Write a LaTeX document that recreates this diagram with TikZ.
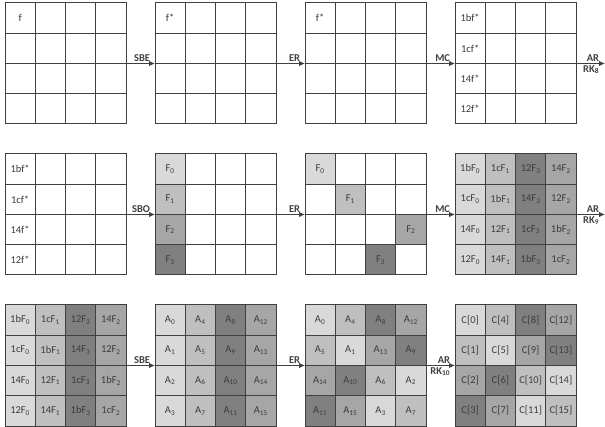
\documentclass[tikz,border=0pt]{standalone}
\usepackage{fontspec}
\setmainfont{Carlito}
\usetikzlibrary{arrows.meta,calc}
\definecolor{stLine}{RGB}{64,64,64}
\definecolor{stText}{RGB}{60,60,60}
\definecolor{shA}{RGB}{217,217,217}
\definecolor{shB}{RGB}{191,191,191}
\definecolor{shC}{RGB}{166,166,166}
\definecolor{shD}{RGB}{128,128,128}
\newcommand\sub[1]{\textsubscript{#1}}
% one 4x4 state: name, top-left x, top-left y, 16 entries text/fill (row by row)
\newcommand\stategrid[4]{%
  \node[gridbox] (#1) at (#2+60.5,#3+60.5) {};
  \foreach \txt/\shade [count=\i from 0] in {#4} {
    \pgfmathtruncatemacro\row{div(\i,4)}
    \pgfmathtruncatemacro\col{mod(\i,4)}
    \node[cell, fill=\shade] (#1-\row\col) at (#2+\col*30.25+15.125, #3+\row*30.25+15.125) {\txt};
  }
}

\begin{document}
\begin{tikzpicture}[
    x=1pt, y=-1pt,
    cell/.style={draw=stLine, line width=1pt, minimum width=30.25pt, minimum height=30.25pt, inner sep=0pt, text=stText, font=\fontsize{10.5}{12}\selectfont},
    gridbox/.style={minimum width=121pt, minimum height=121pt, inner sep=0pt, outer sep=0pt},
    lbl/.style={font=\bfseries\fontsize{10.5}{12}\selectfont, inner sep=1.5pt},
    arrow/.style={-{Latex[length=6pt, width=5.5pt]}, line width=0.9pt, stLine}
  ]
    \useasboundingbox (0,0) rectangle (605,427);

    % row 1
    \stategrid{g11}{5}{3}{f/white, {}/white, {}/white, {}/white,
      {}/white, {}/white, {}/white, {}/white,
      {}/white, {}/white, {}/white, {}/white,
      {}/white, {}/white, {}/white, {}/white}
    \stategrid{g12}{155}{3}{f*/white, {}/white, {}/white, {}/white,
      {}/white, {}/white, {}/white, {}/white,
      {}/white, {}/white, {}/white, {}/white,
      {}/white, {}/white, {}/white, {}/white}
    \stategrid{g13}{305}{3}{f*/white, {}/white, {}/white, {}/white,
      {}/white, {}/white, {}/white, {}/white,
      {}/white, {}/white, {}/white, {}/white,
      {}/white, {}/white, {}/white, {}/white}
    \stategrid{g14}{455}{3}{1bf*/white, {}/white, {}/white, {}/white,
      1cf*/white, {}/white, {}/white, {}/white,
      14f*/white, {}/white, {}/white, {}/white,
      12f*/white, {}/white, {}/white, {}/white}

    % row 2
    \stategrid{g21}{5}{154}{1bf*/white, {}/white, {}/white, {}/white,
      1cf*/white, {}/white, {}/white, {}/white,
      14f*/white, {}/white, {}/white, {}/white,
      12f*/white, {}/white, {}/white, {}/white}
    \stategrid{g22}{155}{154}{F\sub0/shA, {}/white, {}/white, {}/white,
      F\sub1/shB, {}/white, {}/white, {}/white,
      F\sub2/shC, {}/white, {}/white, {}/white,
      F\sub3/shD, {}/white, {}/white, {}/white}
    \stategrid{g23}{305}{154}{F\sub0/shA, {}/white, {}/white, {}/white,
      {}/white, F\sub1/shB, {}/white, {}/white,
      {}/white, {}/white, {}/white, F\sub2/shC,
      {}/white, {}/white, F\sub3/shD, {}/white}
    \stategrid{g24}{455}{154}{1bF\sub0/shA, 1cF\sub1/shB, 12F\sub3/shD, 14F\sub2/shC,
      1cF\sub0/shA, 1bF\sub1/shB, 14F\sub3/shD, 12F\sub2/shC,
      14F\sub0/shA, 12F\sub1/shB, 1cF\sub3/shD, 1bF\sub2/shC,
      12F\sub0/shA, 14F\sub1/shB, 1bF\sub3/shD, 1cF\sub2/shC}

    % row 3
    \stategrid{g31}{5}{305}{1bF\sub0/shA, 1cF\sub1/shB, 12F\sub3/shD, 14F\sub2/shC,
      1cF\sub0/shA, 1bF\sub1/shB, 14F\sub3/shD, 12F\sub2/shC,
      14F\sub0/shA, 12F\sub1/shB, 1cF\sub3/shD, 1bF\sub2/shC,
      12F\sub0/shA, 14F\sub1/shB, 1bF\sub3/shD, 1cF\sub2/shC}
    \stategrid{g32}{155}{305}{A\sub0/shA, A\sub4/shB, A\sub8/shD, A\sub{12}/shC,
      A\sub1/shA, A\sub5/shB, A\sub9/shD, A\sub{13}/shC,
      A\sub2/shA, A\sub6/shB, A\sub{10}/shD, A\sub{14}/shC,
      A\sub3/shA, A\sub7/shB, A\sub{11}/shD, A\sub{15}/shC}
    \stategrid{g33}{305}{305}{A\sub0/shA, A\sub4/shB, A\sub8/shD, A\sub{12}/shC,
      A\sub5/shB, A\sub1/shA, A\sub{13}/shC, A\sub9/shD,
      A\sub{14}/shC, A\sub{10}/shD, A\sub6/shB, A\sub2/shA,
      A\sub{11}/shD, A\sub{15}/shC, A\sub3/shA, A\sub7/shB}
    \stategrid{g34}{455}{305}{C[0]/shA, C[4]/shB, C[8]/shD, C[12]/shC,
      C[1]/shB, C[5]/shA, C[9]/shC, C[13]/shD,
      C[2]/shC, C[6]/shD, C[10]/shB, C[14]/shA,
      C[3]/shD, C[7]/shC, C[11]/shA, C[15]/shB}

    \coordinate (e1) at ($(g14.east)+(29,0)$);
    \coordinate (e2) at ($(g24.east)+(29,0)$);

    \draw[arrow] (g11) -- (g12) node[lbl, pos=1, above left, xshift=-3pt]{SBE};
    \draw[arrow] (g12) -- (g13) node[lbl, pos=1, above left, xshift=-3pt]{ER};
    \draw[arrow] (g13) -- (g14) node[lbl, pos=1, above left, xshift=-3pt]{MC};
    \draw[arrow] (g14) -- (e1) node[lbl, pos=1, above left, xshift=-4pt]{AR}
      node[lbl, pos=1, below left, xshift=-4pt]{RK\sub8};

    \draw[arrow] (g21) -- (g22) node[lbl, pos=1, above left, xshift=-3pt]{SBO};
    \draw[arrow] (g22) -- (g23) node[lbl, pos=1, above left, xshift=-3pt]{ER};
    \draw[arrow] (g23) -- (g24) node[lbl, pos=1, above left, xshift=-3pt]{MC};
    \draw[arrow] (g24) -- (e2) node[lbl, pos=1, above left, xshift=-4pt]{AR}
      node[lbl, pos=1, below left, xshift=-4pt]{RK\sub9};

    \draw[arrow] (g31) -- (g32) node[lbl, pos=1, above left, xshift=-3pt]{SBE};
    \draw[arrow] (g32) -- (g33) node[lbl, pos=1, above left, xshift=-3pt]{ER};
    \draw[arrow] (g33) -- (g34) node[lbl, pos=1, above left, xshift=-3pt]{AR}
      node[lbl, pos=1, below left, xshift=-3pt]{RK\sub{10}};
  \end{tikzpicture}
\end{document}
